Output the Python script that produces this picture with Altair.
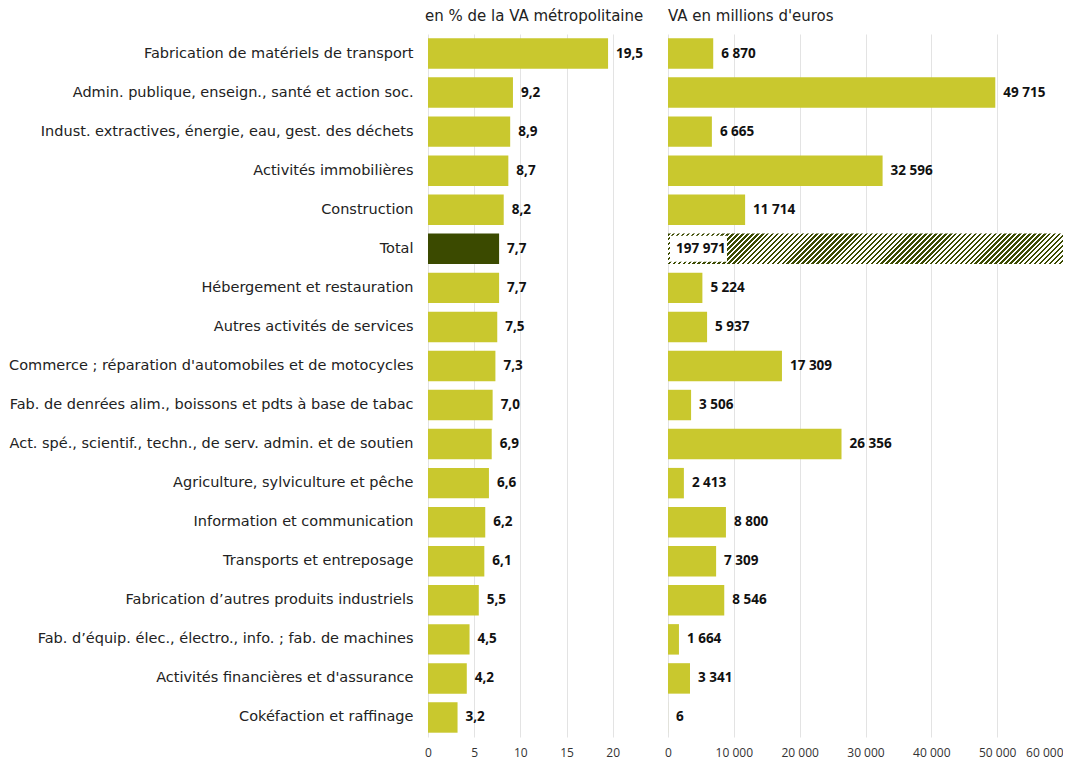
import altair as alt
import pandas as pd

categories = [
    "Fabrication de matériels de transport",
    "Admin. publique, enseign., santé et action soc.",
    "Indust. extractives, énergie, eau, gest. des déchets",
    "Activités immobilières",
    "Construction",
    "Total",
    "Hébergement et restauration",
    "Autres activités de services",
    "Commerce ; réparation d'automobiles et de motocycles",
    "Fab. de denrées alim., boissons et pdts à base de tabac",
    "Act. spé., scientif., techn., de serv. admin. et de soutien",
    "Agriculture, sylviculture et pêche",
    "Information et communication",
    "Transports et entreposage",
    "Fabrication d’autres produits industriels",
    "Fab. d’équip. élec., électro., info. ; fab. de machines",
    "Activités financières et d'assurance",
    "Cokéfaction et raffinage",
]
pct_values = [19.5, 9.2, 8.9, 8.7, 8.2, 7.7, 7.7, 7.5, 7.3, 7.0, 6.9, 6.6, 6.2, 6.1, 5.5, 4.5, 4.2, 3.2]
va_values = [6870, 49715, 6665, 32596, 11714, 197971, 5224, 5937, 17309, 3506, 26356, 2413, 8800, 7309, 8546, 1664, 3341, 6]
pct_ticks = [0, 5, 10, 15, 20]
va_ticks = [0, 10000, 20000, 30000, 40000, 50000, 60000]
total_name = "Total"

GREEN = "#c9c82e"
DARK = "#3b4a00"
FONT = "Open Sans"
LFONT = "DejaVu Sans"

df = pd.DataFrame({"cat": categories, "pct": pct_values, "va": va_values})
df["is_total"] = df["cat"] == total_name
df["pct_label"] = df["pct"].map(lambda v: f"{v:.1f}".replace(".", ","))
df["va_label"] = df["va"].map(lambda v: f"{v:,}".replace(",", " "))
df["va_lx"] = df.apply(lambda r: 0 if r["is_total"] else r["va"], axis=1)

H = 703
W_LEFT = 217
W_RIGHT = 395

yscale = alt.Scale(paddingInner=0.22, paddingOuter=0.11)
y_left = alt.Y("cat:N", sort=categories, scale=yscale, title=None,
               axis=alt.Axis(labelFontSize=14.5, labelColor="#222222", labelFont=LFONT,
                             labelLimit=600, minExtent=420, maxExtent=420, labelPadding=15,
                             ticks=False, domain=False, grid=False))
y_plain = alt.Y("cat:N", sort=categories, scale=yscale, title=None)
y_none = alt.Y("cat:N", sort=categories, scale=yscale, title=None, axis=None)

x_left_scale = alt.Scale(domain=[0, 23.5], nice=False)
x_left_axis = alt.Axis(values=pct_ticks, title=None, grid=True, gridColor="#e3e3e3",
                       ticks=False, domain=False, labelFontSize=12, labelColor="#333333",
                       labelFont=FONT, labelPadding=10, labelFlush=False)

base_l = alt.Chart(df)
bars_l = base_l.mark_bar().encode(
    x=alt.X("pct:Q", scale=x_left_scale, axis=x_left_axis),
    y=y_left,
    color=alt.condition(alt.datum.is_total, alt.value(DARK), alt.value(GREEN)),
)
text_l = base_l.mark_text(align="left", dx=8, fontWeight="bold", fontSize=13.5,
                          font=FONT, color="#111111").encode(
    x=alt.X("pct:Q", scale=x_left_scale),
    y=y_plain,
    text="pct_label:N",
)
left = alt.layer(bars_l, text_l).properties(
    width=W_LEFT, height=H,
    title=alt.TitleParams("en % de la VA métropolitaine", anchor="start", frame="group",
                          fontSize=15, fontWeight="normal", font=LFONT, color="#222222",
                          offset=10, dx=-3),
)

x_right_scale = alt.Scale(domain=[0, 60000], nice=False, clamp=True)
x_right_axis = alt.Axis(values=va_ticks, title=None, grid=True, gridColor="#e3e3e3",
                        ticks=False, domain=False, labelFontSize=12, labelColor="#333333",
                        labelFont=FONT, labelPadding=10, labelFlush=False,
                        labelAlign={"condition": {"test": "datum.value >= 60000", "value": "right"},
                                    "value": "center"},
                        labelExpr="replace(format(datum.value, ','), /,/g, ' ')")

# diagonal hatching for the Total bar, built as a striped gradient
n_stripes = 86
stops = []
for i in range(n_stripes):
    a = i / n_stripes
    m = (i + 0.5) / n_stripes
    b = (i + 1) / n_stripes
    stops += [alt.GradientStop(color=DARK, offset=a), alt.GradientStop(color=DARK, offset=m),
              alt.GradientStop(color="#ffffff", offset=m), alt.GradientStop(color="#ffffff", offset=b)]
bw = H / 18 * 0.78
r = bw / W_RIGHT
k = (1 + r) / (1 + r * r)
hatch = alt.LinearGradient(gradient="linear", stops=stops, x1=0, y1=0, x2=k, y2=k * r)

base_r = alt.Chart(df)
bars_r = base_r.transform_filter("!datum.is_total").mark_bar(color=GREEN).encode(
    x=alt.X("va:Q", scale=x_right_scale, axis=x_right_axis),
    y=y_none,
)
bar_total = base_r.transform_filter("datum.is_total").mark_bar(color=hatch).encode(
    x=alt.X("va:Q", scale=x_right_scale),
    y=y_none,
)
label_box = base_r.transform_filter("datum.is_total").transform_calculate(
    bx0="300", bx1="8960"
).mark_bar(color="#ffffff", height=26).encode(
    x=alt.X("bx0:Q", scale=x_right_scale),
    x2="bx1:Q",
    y=y_none,
)
text_r = base_r.mark_text(align="left", dx=8, fontWeight="bold", fontSize=13.5,
                          font=FONT, color="#111111").encode(
    x=alt.X("va_lx:Q", scale=x_right_scale),
    y=y_none,
    text="va_label:N",
)
right = alt.layer(bars_r, bar_total, label_box, text_r).properties(
    width=W_RIGHT, height=H,
    title=alt.TitleParams("VA en millions d'euros", anchor="start", frame="group",
                          fontSize=15, fontWeight="normal", font=LFONT, color="#222222",
                          offset=10),
)

chart = alt.hconcat(left, right, spacing=19).properties(
    padding={"left": 0, "top": 1, "right": 0, "bottom": 0}
).configure(font=FONT).configure_view(stroke=None)

chart.save("out.html", embed_options={"renderer": "svg", "actions": False})
